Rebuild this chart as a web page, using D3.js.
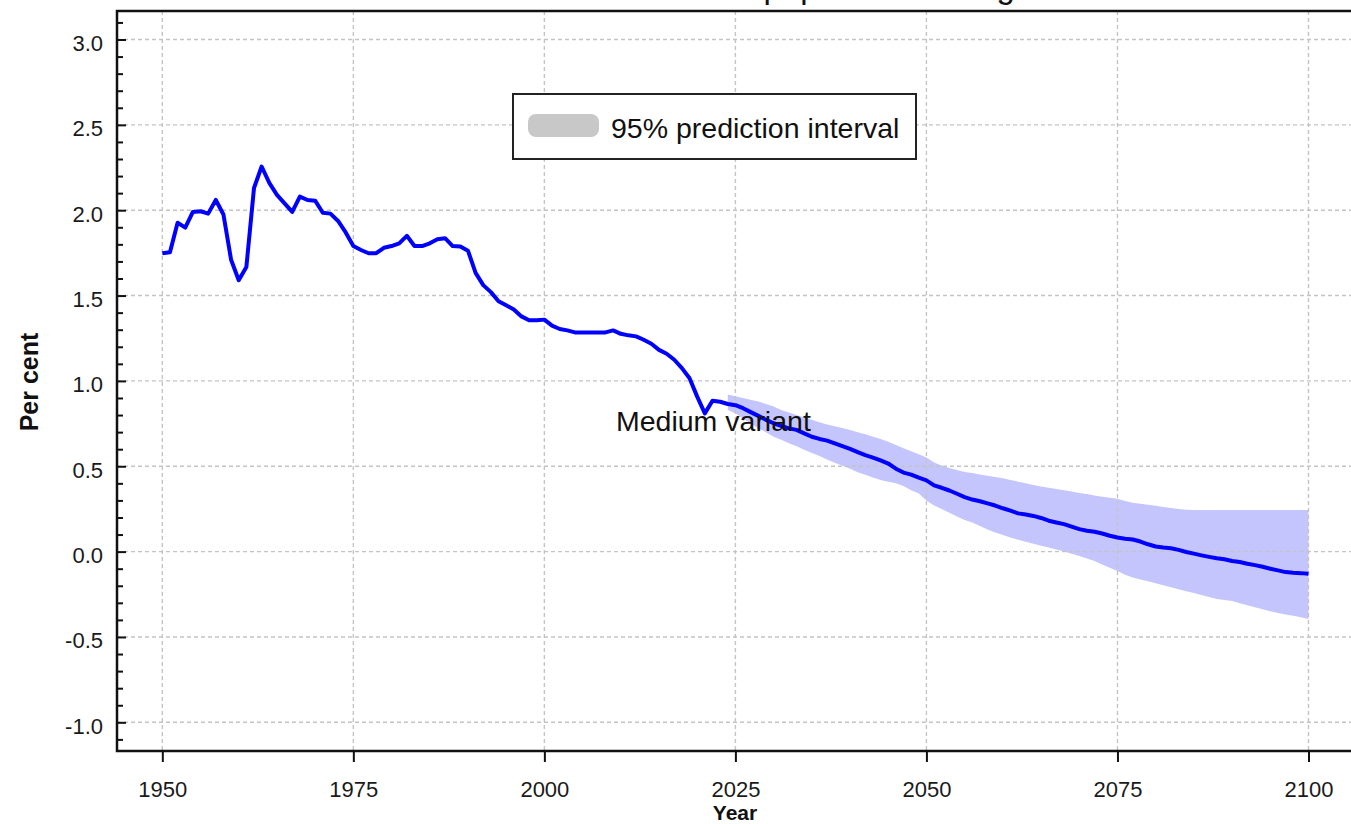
<!DOCTYPE html>
<html>
<head>
<meta charset="utf-8">
<script src="https://cdn.jsdelivr.net/npm/d3@7"></script>
<style>
  html, body { margin: 0; padding: 0; background: #ffffff; overflow: hidden; }
  svg { display: block; font-family: "Liberation Sans", Arial, sans-serif; }
</style>
</head>
<body>
<svg id="chart" width="1351" height="824"></svg>
<script>
// ---------------- data ----------------
const chartTitle = "World: Annual rate of population change";
const xAxisTitle = "Year";
const yAxisTitle = "Per cent";
const legendLabel = "95% prediction interval";
const variantLabel = "Medium variant";

const firstYear = 1950;
const lastYear = 2100;
// annual rate of population change (per cent), 1950 ... 2100
const growthRate = [
  1.748, 1.754, 1.927, 1.898, 1.990, 1.994, 1.980, 2.060, 1.975, 1.710, // 1950-1959
  1.590, 1.667, 2.130, 2.256, 2.160, 2.090, 2.040, 1.990, 2.080, 2.060, // 1960-1969
  2.056, 1.985, 1.980, 1.937, 1.870, 1.790, 1.767, 1.748, 1.748, 1.780, // 1970-1979
  1.790, 1.806, 1.850, 1.790, 1.790, 1.806, 1.830, 1.836, 1.790, 1.787, // 1980-1989
  1.763, 1.633, 1.561, 1.520, 1.467, 1.443, 1.418, 1.378, 1.355, 1.355, // 1990-1999
  1.359, 1.324, 1.304, 1.296, 1.284, 1.284, 1.284, 1.284, 1.284, 1.296, // 2000-2009
  1.276, 1.267, 1.261, 1.241, 1.218, 1.182, 1.159, 1.124, 1.075, 1.016, // 2010-2019
  0.908, 0.810, 0.884, 0.878, 0.865, 0.858, 0.840, 0.817, 0.795, 0.772, // 2020-2029
  0.752, 0.736, 0.722, 0.713, 0.693, 0.673, 0.660, 0.650, 0.634, 0.618, // 2030-2039
  0.602, 0.583, 0.565, 0.551, 0.535, 0.516, 0.486, 0.463, 0.451, 0.433, // 2040-2049
  0.417, 0.388, 0.374, 0.358, 0.339, 0.319, 0.305, 0.295, 0.283, 0.270, // 2050-2059
  0.254, 0.240, 0.224, 0.217, 0.209, 0.197, 0.181, 0.171, 0.161, 0.146, // 2060-2069
  0.132, 0.122, 0.116, 0.106, 0.093, 0.083, 0.075, 0.071, 0.059, 0.043, // 2070-2079
  0.030, 0.024, 0.020, 0.010, -0.002, -0.012, -0.022, -0.031, -0.039, -0.045, // 2080-2089
  -0.055, -0.061, -0.071, -0.079, -0.089, -0.100, -0.110, -0.120, -0.124, -0.126, // 2090-2099
  -0.130 // 2100
];

// 95% prediction interval, 2024 ... 2100
const bandFirstYear = 2024;
const bandUpper = [
  0.920, 0.910, 0.900, 0.890, 0.880, 0.865,                               // 2024-2029
  0.850, 0.830, 0.815, 0.800, 0.786, 0.772, 0.758, 0.745, 0.735, 0.724,   // 2030-2039
  0.713, 0.700, 0.688, 0.673, 0.660, 0.644, 0.625, 0.605, 0.588, 0.570,   // 2040-2049
  0.551, 0.522, 0.505, 0.490, 0.478, 0.467, 0.460, 0.452, 0.445, 0.437,   // 2050-2059
  0.430, 0.420, 0.410, 0.400, 0.390, 0.382, 0.374, 0.367, 0.360, 0.352,   // 2060-2069
  0.344, 0.337, 0.329, 0.322, 0.315, 0.309, 0.297, 0.287, 0.280, 0.274,   // 2070-2079
  0.268, 0.262, 0.256, 0.250, 0.245, 0.244, 0.244, 0.244, 0.244, 0.244,   // 2080-2089
  0.244, 0.244, 0.244, 0.244, 0.244, 0.244, 0.244, 0.244, 0.244, 0.244,   // 2090-2099
  0.244                                                                   // 2100
];
const bandLower = [
  0.830, 0.810, 0.780, 0.750, 0.722, 0.700,                               // 2024-2029
  0.673, 0.655, 0.635, 0.617, 0.597, 0.578, 0.560, 0.540, 0.520, 0.503,   // 2030-2039
  0.485, 0.465, 0.450, 0.434, 0.420, 0.410, 0.400, 0.385, 0.360, 0.340,   // 2040-2049
  0.300, 0.270, 0.250, 0.228, 0.205, 0.185, 0.170, 0.150, 0.130, 0.112,   // 2050-2059
  0.097, 0.082, 0.070, 0.058, 0.046, 0.035, 0.024, 0.012, 0.000, -0.012,  // 2060-2069
  -0.026, -0.040, -0.055, -0.075, -0.095, -0.114, -0.135, -0.152, -0.163, -0.174, // 2070-2079
  -0.185, -0.197, -0.209, -0.220, -0.232, -0.243, -0.254, -0.266, -0.277, -0.284, // 2080-2089
  -0.290, -0.302, -0.314, -0.326, -0.338, -0.350, -0.360, -0.368, -0.375, -0.385, // 2090-2099
  -0.394                                                                  // 2100
];

const xTickValues = [1950, 1975, 2000, 2025, 2050, 2075, 2100];
const yTickValues = [-1.0, -0.5, 0.0, 0.5, 1.0, 1.5, 2.0, 2.5, 3.0];
const yTickLabels = ["-1.0", "-0.5", "0.0", "0.5", "1.0", "1.5", "2.0", "2.5", "3.0"];
const yMinorTickValues = [-1.1, -0.9, -0.8, -0.7, -0.6, -0.4, -0.3, -0.2, -0.1,
  0.1, 0.2, 0.3, 0.4, 0.6, 0.7, 0.8, 0.9, 1.1, 1.2, 1.3, 1.4, 1.6, 1.7, 1.8, 1.9,
  2.1, 2.2, 2.3, 2.4, 2.6, 2.7, 2.8, 2.9, 3.1];

// ---------------- build ----------------
const lineData = growthRate.map((v, i) => ({ year: firstYear + i, value: v }));
const bandData = bandUpper.map((u, i) => ({ year: bandFirstYear + i, hi: u, lo: bandLower[i] }));

const svg = d3.select("#chart");
const W = 1351, H = 824;
const plot = { left: 117, top: 11, right: 1353.8, bottom: 751 };

const x = d3.scaleLinear().domain([1944.07, 2105.93]).range([plot.left, plot.right]);
const y = d3.scaleLinear().domain([-1.168, 3.167]).range([plot.bottom, plot.top]);

svg.append("rect").attr("width", W).attr("height", H).attr("fill", "#ffffff");

// prediction band
svg.append("path")
  .datum(bandData)
  .attr("fill", "#c5c5fd")
  .attr("d", d3.area().x(d => x(d.year)).y0(d => y(d.lo)).y1(d => y(d.hi)));

// grid
const grid = svg.append("g").attr("stroke", "#c4c4c4").attr("stroke-width", 1.4)
  .attr("stroke-dasharray", "4,3").attr("fill", "none");
grid.selectAll("line.h").data(yTickValues).join("line").attr("class", "h")
  .attr("x1", plot.left).attr("x2", plot.right)
  .attr("y1", d => y(d)).attr("y2", d => y(d));
grid.selectAll("line.v").data(xTickValues).join("line").attr("class", "v")
  .attr("y1", plot.top).attr("y2", plot.bottom)
  .attr("x1", d => x(d)).attr("x2", d => x(d));

// main line
svg.append("path")
  .datum(lineData)
  .attr("fill", "none")
  .attr("stroke", "#0000ff")
  .attr("stroke-width", 4)
  .attr("stroke-linejoin", "round")
  .attr("d", d3.line().x(d => x(d.year)).y(d => y(d.value)));

// legend
const leg = svg.append("g");
leg.append("rect").attr("x", 513).attr("y", 94).attr("width", 403).attr("height", 65)
  .attr("fill", "#ffffff").attr("stroke", "#222").attr("stroke-width", 2);
leg.append("rect").attr("x", 528).attr("y", 114).attr("width", 71).attr("height", 23)
  .attr("rx", 8).attr("ry", 8).attr("fill", "#c8c8c8");
leg.append("text").attr("x", 611).attr("y", 138).attr("font-size", 28.5)
  .attr("fill", "#111").text(legendLabel);

// variant label
svg.append("text").attr("x", 616).attr("y", 431).attr("font-size", 28.5)
  .attr("fill", "#111").text(variantLabel);

// axes
const xAxis = svg.append("g").attr("transform", `translate(0,${plot.bottom})`)
  .call(d3.axisBottom(x).tickValues(xTickValues).tickSize(11).tickSizeOuter(0).tickFormat(d3.format("d")));
xAxis.select(".domain").remove();
xAxis.selectAll(".tick line").attr("stroke", "#111").attr("stroke-width", 2);
xAxis.selectAll(".tick text").attr("y", 46).attr("dy", 0).attr("font-size", 22)
  .attr("font-family", "Liberation Sans, Arial, sans-serif").attr("fill", "#1a1a1a");

const yAxis = svg.append("g").attr("transform", `translate(${plot.left},0)`)
  .call(d3.axisLeft(y).tickValues(yTickValues).tickSize(-9).tickSizeOuter(0).tickPadding(14)
    .tickFormat((d, i) => yTickLabels[i]));
yAxis.select(".domain").remove();
yAxis.selectAll(".tick line").attr("stroke", "#111").attr("stroke-width", 2);
yAxis.selectAll(".tick text").attr("dy", "0.5em").attr("font-size", 22)
  .attr("font-family", "Liberation Sans, Arial, sans-serif").attr("fill", "#1a1a1a");

const yMinor = svg.append("g").attr("transform", `translate(${plot.left},0)`)
  .call(d3.axisLeft(y).tickValues(yMinorTickValues).tickSize(-6).tickSizeOuter(0).tickFormat(""));
yMinor.select(".domain").remove();
yMinor.selectAll(".tick line").attr("stroke", "#111").attr("stroke-width", 2);

// frame (left axis, bottom axis, top border)
svg.append("rect").attr("x", plot.left).attr("y", plot.top)
  .attr("width", plot.right - plot.left).attr("height", plot.bottom - plot.top)
  .attr("fill", "none").attr("stroke", "#111").attr("stroke-width", 2.5);

// axis titles
svg.append("text").attr("x", 735).attr("y", 820).attr("text-anchor", "middle")
  .attr("font-size", 21).attr("font-weight", "bold").attr("fill", "#111").text(xAxisTitle);
svg.append("text").attr("transform", "translate(38,382) rotate(-90)").attr("text-anchor", "middle")
  .attr("font-size", 25).attr("font-weight", "bold").attr("fill", "#111").text(yAxisTitle);

// title (mostly above the visible area, as in the reference)
svg.append("text").attr("x", 740).attr("y", -2).attr("text-anchor", "middle")
  .attr("font-size", 33).attr("fill", "#111").text(chartTitle);
</script>
</body>
</html>
